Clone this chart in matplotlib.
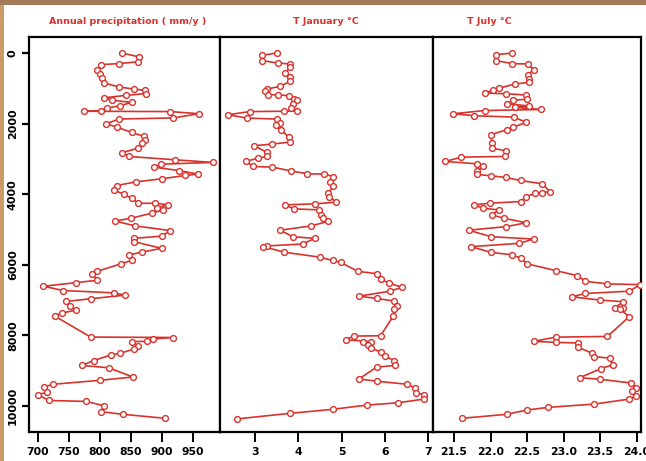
import matplotlib
matplotlib.use("Agg")
import matplotlib.pyplot as plt
from matplotlib.patches import Rectangle

# ---------------- data (age in years BP) ----------------
age_precip = [0, 110, 250, 300, 330, 490, 600, 710, 850, 965, 1020, 1060, 1150, 1200,
              1270, 1340, 1400, 1490, 1570, 1630, 1650, 1660, 1720, 1840, 1870, 2005,
              2100, 2250, 2365, 2460, 2555, 2695, 2820, 2930, 3025, 3100, 3150, 3235,
              3330, 3430, 3470, 3565, 3650, 3755, 3885, 4000, 4115, 4255, 4260, 4300,
              4380, 4445, 4540, 4680, 4760, 4900, 5030, 5187, 5252, 5346, 5533, 5645,
              5720, 5878, 5972, 6187, 6262, 6439, 6505, 6608, 6729, 6795, 6860, 6963,
              7038, 7178, 7290, 7365, 7449, 8047, 8060, 8104, 8169, 8175, 8291, 8384,
              8506, 8553, 8712, 8852, 8917, 9179, 9273, 9385, 9460, 9609, 9684, 9843,
              9871, 9993, 10161, 10236, 10348]
precip = [835, 863, 861, 831, 801, 795, 800, 803, 807, 831, 854, 872, 874, 842,
          807, 820, 852, 832, 811, 801, 774, 913, 959, 918, 831, 810,
          827, 851, 871, 872, 868, 862, 836, 846, 920, 981, 898, 887,
          927, 957, 937, 899, 858, 827, 823, 838, 851, 861, 889, 910,
          892, 902, 883, 850, 824, 857, 913, 900, 855, 855, 899, 867,
          847, 851, 834, 795, 788, 796, 762, 709, 741, 822, 840, 785,
          746, 752, 761, 739, 727, 785, 918, 885, 876, 852, 861, 855,
          833, 818, 790, 771, 814, 853, 800, 725, 710, 715, 700, 718,
          778, 806, 802, 837, 904]

age_jan = [0, 66, 217, 284, 312, 407, 567, 690, 804, 946, 1021, 1069, 1182, 1185,
           1210, 1295, 1324, 1437, 1560, 1640, 1650, 1660, 1749, 1844, 1872, 1986,
           2052, 2175, 2383, 2525, 2581, 2629, 2818, 2931, 2979, 3073, 3215, 3234,
           3338, 3423, 3430, 3499, 3641, 3782, 3971, 4066, 4227, 4274, 4302, 4416,
           4444, 4586, 4681, 4770, 4900, 5020, 5205, 5252, 5411, 5467, 5486, 5645,
           5785, 5878, 5935, 6187, 6252, 6402, 6524, 6636, 6748, 6888, 6954, 7029,
           7169, 7262, 7459, 8010, 8020, 8122, 8178, 8197, 8263, 8365, 8478, 8590,
           8712, 8852, 8899, 9235, 9300, 9385, 9488, 9628, 9675, 9805, 9908, 9974,
           10095, 10208, 10367]
t_jan = [3.50, 3.17, 3.17, 3.52, 3.81, 3.81, 3.69, 3.81, 3.81, 3.58, 3.27, 3.22, 3.31, 3.52,
         3.78, 3.90, 3.98, 3.87, 3.82, 3.98, 3.68, 2.88, 2.37, 2.81, 3.50, 3.58,
         3.48, 3.59, 3.78, 3.81, 3.38, 2.98, 3.28, 3.28, 3.06, 2.79, 2.96, 3.40,
         3.82, 4.21, 4.60, 4.81, 4.73, 4.81, 4.69, 4.72, 4.87, 4.38, 3.69, 3.90,
         4.48, 4.52, 4.58, 4.69, 4.29, 3.58, 3.87, 4.38, 4.10, 3.27, 3.19, 3.68,
         4.50, 4.79, 4.98, 5.38, 5.82, 5.90, 6.10, 6.40, 6.12, 5.40, 5.81, 6.22,
         6.29, 6.22, 6.19, 5.90, 5.29, 5.09, 5.69, 5.50, 5.60, 5.69, 5.92, 6.00,
         6.22, 6.23, 5.81, 5.40, 5.82, 6.52, 6.69, 6.72, 6.90, 6.90, 6.31, 5.59,
         4.79, 3.81, 2.58]

age_jul = [0, 47, 217, 303, 310, 473, 615, 738, 832, 879, 1002, 1050, 1135, 1154,
           1191, 1305, 1343, 1437, 1500, 1540, 1600, 1630, 1721, 1778, 1816, 1967,
           2099, 2175, 2317, 2553, 2695, 2771, 2931, 2950, 3073, 3139, 3215, 3357,
           3440, 3480, 3527, 3612, 3707, 3924, 3960, 3980, 4066, 4208, 4255, 4302,
           4397, 4444, 4586, 4681, 4810, 4920, 5020, 5205, 5271, 5392, 5486, 5645,
           5720, 5813, 5972, 6168, 6309, 6468, 6542, 6561, 6748, 6813, 6907, 7000,
           7047, 7215, 7234, 7262, 7468, 8030, 8050, 8169, 8197, 8216, 8338, 8506,
           8599, 8646, 8833, 8945, 9198, 9244, 9347, 9478, 9581, 9712, 9805, 9946,
           10039, 10114, 10236, 10348]
t_jul = [22.30, 22.08, 22.08, 22.30, 22.51, 22.59, 22.51, 22.53, 22.53, 22.33, 22.11, 22.04, 21.92, 22.21,
         22.49, 22.50, 22.31, 22.22, 22.52, 22.34, 22.69, 21.92, 21.49, 21.78, 22.32, 22.49,
         22.31, 22.22, 22.00, 22.02, 22.02, 22.21, 22.20, 21.60, 21.38, 21.81, 21.90, 21.81,
         21.81, 22.01, 22.21, 22.41, 22.71, 22.81, 22.71, 22.61, 22.49, 22.41, 21.99, 21.78,
         21.89, 22.11, 22.02, 22.18, 22.49, 22.21, 21.70, 22.01, 22.59, 22.39, 21.73, 22.00,
         22.30, 22.41, 22.50, 22.90, 23.19, 23.30, 23.60, 24.05, 23.90, 23.30, 23.11, 23.50,
         23.82, 23.70, 23.81, 23.77, 23.90, 23.60, 22.89, 22.59, 22.90, 23.20, 23.20, 23.39,
         23.41, 23.63, 23.67, 23.51, 23.22, 23.50, 23.92, 23.99, 23.93, 23.99, 23.90, 23.42,
         22.79, 22.50, 22.22, 21.61]

titles = ["Annual precipitation ( mm/y )", "T January \u00b0C", "T July \u00b0C"]
yticks = [0, 2000, 4000, 6000, 8000, 10000]
xticks_precip = [700, 750, 800, 850, 900, 950]
xticks_jan = [3, 4, 5, 6, 7]
xticks_jul = [21.5, 22.0, 22.5, 23.0, 23.5, 24.0]

# ---------------- style ----------------
RED = "#d8322c"
FONT = ["Liberation Sans Narrow", "DejaVu Sans"]
W, H = 646, 461

fig = plt.figure(figsize=(W / 100, H / 100), dpi=100)
fig.patch.set_facecolor("white")

# tan frame strips
fig.patches.append(Rectangle((0, 0), 4 / W, 1, transform=fig.transFigure,
                             facecolor="#cc9a66", edgecolor="none", zorder=0))
fig.patches.append(Rectangle((0, 1 - 5 / H), 1, 5 / H, transform=fig.transFigure,
                             facecolor="#a27a5a", edgecolor="none", zorder=0))

top_px, bot_px = 37, 432
panels_px = [(29, 220), (220, 432.5), (432.5, 641)]
xlims = [(686, 993), (2.19, 7.10), (21.205, 24.06)]
series = [(precip, age_precip, xticks_precip, ["700", "750", "800", "850", "900", "950"]),
          (t_jan, age_jan, xticks_jan, ["3", "4", "5", "6", "7"]),
          (t_jul, age_jul, xticks_jul, ["21.5", "22.0", "22.5", "23.0", "23.5", "24.0"])]
title_x_px = [128, 326, 489]

for i, ((x0, x1), xl, (vals, ages, xt, xtl)) in enumerate(zip(panels_px, xlims, series)):
    ax = fig.add_axes([x0 / W, 1 - bot_px / H, (x1 - x0) / W, (bot_px - top_px) / H])
    ax.plot(vals, ages, color=RED, lw=1.2, marker="o", ms=4.2,
            mfc="white", mec=RED, mew=1.0, zorder=3)
    ax.set_xlim(*xl)
    ax.set_ylim(10737, -453)
    for s in ax.spines.values():
        s.set_linewidth(1.6)
        s.set_color("black")
    ax.set_xticks(xt)
    ax.set_xticklabels(xtl, fontfamily=FONT, fontsize=7.8, fontweight="bold")
    ax.tick_params(axis="x", direction="out", length=7, width=1.4, pad=4)
    if i == 0:
        ax.set_yticks(yticks)
        ax.set_yticklabels([str(v) for v in yticks], rotation=90, va="center",
                           fontfamily=FONT, fontsize=8, fontweight="bold")
        ax.tick_params(axis="y", direction="out", length=5, width=1.6, pad=3)
    else:
        ax.set_yticks([])
    fig.text(title_x_px[i] / W, 1 - 21 / H, titles[i], color=RED,
             ha="center", va="center", fontsize=6.8, fontfamily=FONT,
             fontweight="bold")

fig.savefig("out.png", dpi=100, facecolor=fig.get_facecolor())
